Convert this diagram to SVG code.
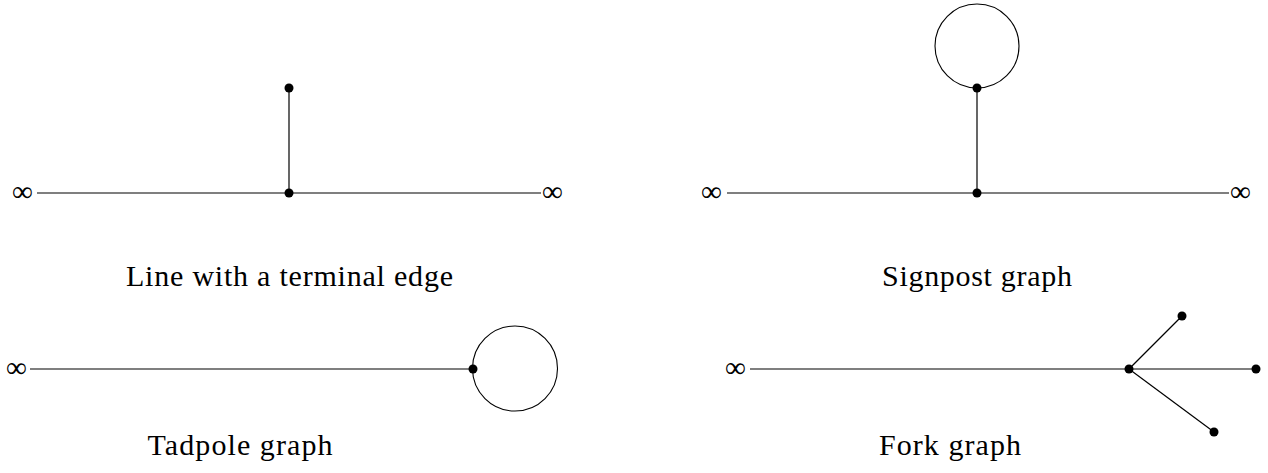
<svg xmlns="http://www.w3.org/2000/svg" width="1268" height="473" viewBox="0 0 1268 473">
<style>
.e{stroke:#000;stroke-width:1.2;fill:none}
.c{stroke:#000;stroke-width:1.1;fill:none}
.d{fill:#000}
.inf{font-family:"Liberation Serif",serif;font-size:29px;fill:#000}
.lbl{font-family:"Liberation Serif",serif;font-size:30px;fill:#000;text-anchor:middle}
</style>
<g id="connectors">
<line class="e" x1="37" y1="193" x2="541" y2="193"/>
<line class="e" x1="289" y1="193" x2="289" y2="88"/>
<line class="e" x1="727" y1="193" x2="1229" y2="193"/>
<line class="e" x1="977" y1="193" x2="977" y2="88"/>
<circle class="c" cx="977" cy="46" r="42"/>
<line class="e" x1="30" y1="369" x2="473" y2="369"/>
<circle class="c" cx="515" cy="368.5" r="42.5"/>
<line class="e" x1="750" y1="369" x2="1256" y2="369"/>
<line class="e" x1="1129" y1="369" x2="1182" y2="316"/>
<line class="e" x1="1129" y1="369" x2="1214" y2="432"/>
</g>
<g id="line-terminal">
<text class="inf" x="12" y="201">∞</text>
<text class="inf" x="542" y="201">∞</text>
<circle id="n1a" class="d" cx="289" cy="193" r="4.5"/>
<circle id="n1b" class="d" cx="289" cy="88" r="4.5"/>
<text class="lbl" x="289.5" y="286" textLength="327" lengthAdjust="spacing">Line with a terminal edge</text>
</g>
<g id="signpost">
<text class="inf" x="701" y="201">∞</text>
<text class="inf" x="1230" y="201">∞</text>
<circle id="n2a" class="d" cx="977" cy="193" r="4.5"/>
<circle id="n2b" class="d" cx="977" cy="88" r="4.5"/>
<text class="lbl" x="977" y="286" textLength="190" lengthAdjust="spacing">Signpost graph</text>
</g>
<g id="tadpole">
<text class="inf" x="6" y="377">∞</text>
<circle id="n3a" class="d" cx="473" cy="369" r="4.5"/>
<text class="lbl" x="240" y="455" textLength="185" lengthAdjust="spacing">Tadpole graph</text>
</g>
<g id="fork">
<text class="inf" x="725" y="377">∞</text>
<circle id="n4a" class="d" cx="1129" cy="369" r="4.5"/>
<circle id="n4b" class="d" cx="1256" cy="369" r="4.5"/>
<circle id="n4c" class="d" cx="1182" cy="316" r="4.5"/>
<circle id="n4d" class="d" cx="1214" cy="432" r="4.5"/>
<text class="lbl" x="950" y="455" textLength="142" lengthAdjust="spacing">Fork graph</text>
</g>
</svg>
